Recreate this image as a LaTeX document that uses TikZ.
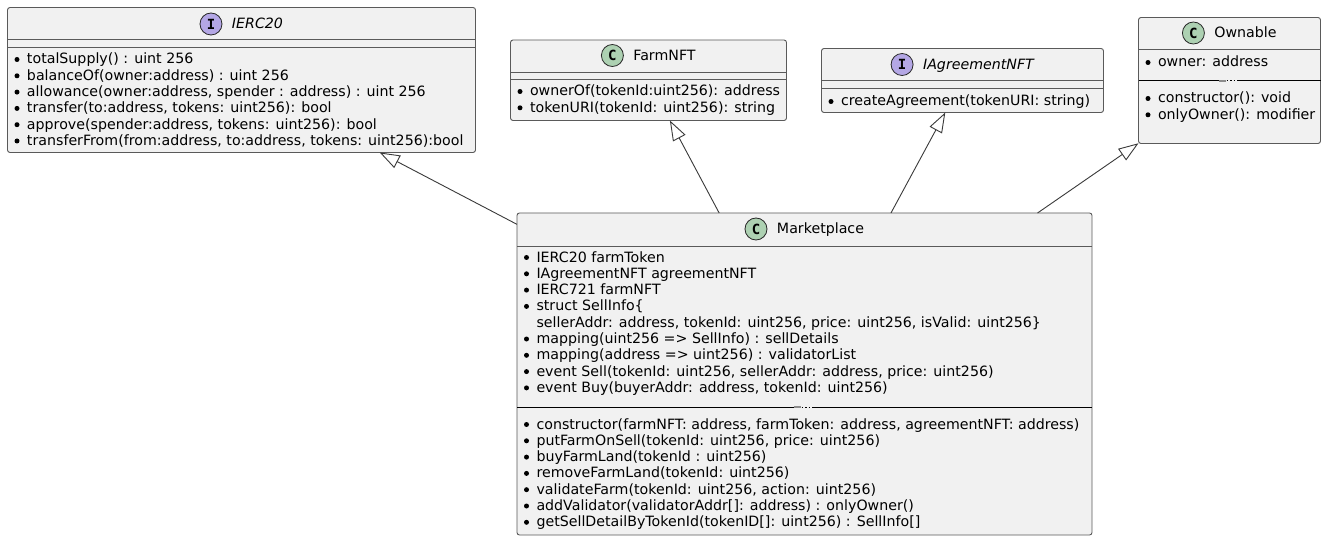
\documentclass[tikz,border=0pt]{standalone}
\usepackage{fontspec}
\setmainfont{DejaVu Sans}
\newfontfamily\badgefont{DejaVu Sans Mono}
\usetikzlibrary{arrows.meta}

\definecolor{boxfill}{HTML}{F1F1F1}
\definecolor{boxline}{HTML}{5A5A5A}
\definecolor{ifacecirc}{HTML}{B4A7E5}
\definecolor{classcirc}{HTML}{ADD1B2}
\definecolor{edgecol}{HTML}{3A3A3A}

\tikzset{
  umlbox/.style={rectangle, draw=boxline, fill=boxfill, line width=0.9pt,
    rounded corners=2.5pt, inner sep=0pt, outer sep=0pt},
  txt/.style={inner sep=0pt, outer sep=0pt, anchor=base west,
    font=\fontsize{14.2}{16.3}\selectfont},
  titletxt/.style={inner sep=0pt, outer sep=0pt, anchor=base,
    font=\fontsize{14.2}{16.3}\selectfont},
  sepline/.style={draw=boxline, line width=0.9pt},
  blackline/.style={draw=black, line width=1pt},
  bulletdot/.style={fill=black},
  badge/.style={circle, draw=black!85, line width=0.8pt, minimum size=22pt,
    inner sep=0pt, font=\badgefont\bfseries\fontsize{14}{14}\selectfont},
  inherit/.style={draw=edgecol, line width=0.9pt,
    -{Triangle[open, length=20pt, width=14pt]}},
}

% class title: name, centre x, baseline, badge letter, badge colour, text
\newcommand\umltitle[6]{%
  \node[titletxt] (#1) at (#2+16, #3) {#6};
  \node[badge, fill=#5] (#1-badge) at ([xshift=-21pt, yshift=5pt]#1.base west) {#4};
}
% bulleted member lines: prefix, box left x, first baseline, list
\newcommand\umlmembers[4]{%
  \foreach \m [count=\k from 0] in {#4} {
    \fill[bulletdot] (#2+9.5, #3+16.3*\k-4.5) circle (2.5pt);
    \node[txt] (#1-\k) at (#2+19.5, #3+16.3*\k) {\m};
  }
}
% separator drawn through a stray "--" mark: left x, right x, y, centre x
\newcommand\brokensep[4]{%
  \draw[blackline] (#1,#3) -- (#4-11,#3);
  \draw[black!45, line width=2pt] (#4-11,#3) -- (#4-4,#3);
  \draw[blackline, dash pattern=on 1.5pt off 2pt] (#4-3,#3) -- (#4+9,#3);
  \draw[blackline] (#4+9,#3) -- (#2,#3);
}

\begin{document}
\begin{tikzpicture}[x=1pt, y=-1pt]
  \fill[white] (0,0) rectangle (1326,540);
  \useasboundingbox (0,0) rectangle (1326,540);

  % ---------------- IERC20 ----------------
  \node[umlbox, minimum width=468pt, minimum height=145pt] (ierc) at (241.5,80) {};
  \umltitle{ierc-title}{241.5}{29}{I}{ifacecirc}{\itshape IERC20}
  \draw[sepline] (7.5,39.5) -- (475.5,39.5);
  \draw[sepline] (7.5,47) -- (475.5,47);
  \umlmembers{ierc-m}{7.5}{64}{
    {totalSupply() : uint 256},
    {balanceOf(owner:address) : uint 256},
    {allowance(owner:address, spender : address) : uint 256},
    {transfer(to:address, tokens: uint256): bool},
    {approve(spender:address, tokens: uint256): bool},
    {transferFrom(from:address, to:address, tokens: uint256):bool}}

  % ---------------- FarmNFT ----------------
  \node[umlbox, minimum width=276pt, minimum height=80.5pt] (farm) at (648.5,80.25) {};
  \umltitle{farm-title}{648.5}{60.5}{C}{classcirc}{FarmNFT}
  \draw[sepline] (510.5,72) -- (786.5,72);
  \draw[sepline] (510.5,79) -- (786.5,79);
  \umlmembers{farm-m}{510.5}{96}{
    {ownerOf(tokenId:uint256): address},
    {tokenURI(tokenId: uint256): string}}

  % ---------------- IAgreementNFT ----------------
  \node[umlbox, minimum width=282pt, minimum height=64pt] (agree) at (962.5,80.5) {};
  \umltitle{agree-title}{962.5}{69.5}{I}{ifacecirc}{\itshape IAgreementNFT}
  \draw[sepline] (821.5,80) -- (1103.5,80);
  \draw[sepline] (821.5,88) -- (1103.5,88);
  \umlmembers{agree-m}{821.5}{106}{
    {createAgreement(tokenURI: string)}}

  % ---------------- Ownable ----------------
  \node[umlbox, minimum width=182pt, minimum height=126pt] (own) at (1229.5,80.5) {};
  \umltitle{own-title}{1229.5}{38}{C}{classcirc}{Ownable}
  \draw[sepline] (1138.5,49) -- (1320.5,49);
  \umlmembers{own-a}{1138.5}{67}{
    {owner: address}}
  \brokensep{1138.5}{1320.5}{81}{1229.5}
  \umlmembers{own-m}{1138.5}{103}{
    {constructor(): void},
    {onlyOwner(): modifier}}

  % ---------------- Marketplace ----------------
  \node[umlbox, minimum width=575pt, minimum height=322pt] (mkt) at (804.5,374) {};
  \umltitle{mkt-title}{804.5}{234}{C}{classcirc}{Marketplace}
  \draw[sepline] (517,246) -- (1092,246);
  \umlmembers{mkt-a}{517}{262}{
    {IERC20 farmToken},
    {IAgreementNFT agreementNFT},
    {IERC721 farmNFT},
    {struct SellInfo\{}}
  \node[txt] (mkt-cont) at (536.5,327.2)
    {sellerAddr: address, tokenId: uint256, price: uint256, isValid: uint256\}};
  \umlmembers{mkt-b}{517}{343.5}{
    {mapping(uint256 => SellInfo) : sellDetails},
    {mapping(address => uint256) : validatorList},
    {event Sell(tokenId: uint256, sellerAddr: address, price: uint256)},
    {event Buy(buyerAddr: address, tokenId: uint256)}}
  \brokensep{517}{1092}{407}{804.5}
  \umlmembers{mkt-m}{517}{429}{
    {constructor(farmNFT: address, farmToken: address, agreementNFT: address)},
    {putFarmOnSell(tokenId: uint256, price: uint256)},
    {buyFarmLand(tokenId : uint256)},
    {removeFarmLand(tokenId: uint256)},
    {validateFarm(tokenId: uint256, action: uint256)},
    {addValidator(validatorAddr[]: address) : onlyOwner()},
    {getSellDetailByTokenId(tokenID[]: uint256) : SellInfo[]}}

  % ---------------- generalisations ----------------
  \draw[inherit] (mkt) -- (ierc);
  \draw[inherit] (mkt) -- (farm);
  \draw[inherit] (mkt) -- (agree);
  \draw[inherit] (mkt) -- (own);
\end{tikzpicture}
\end{document}
